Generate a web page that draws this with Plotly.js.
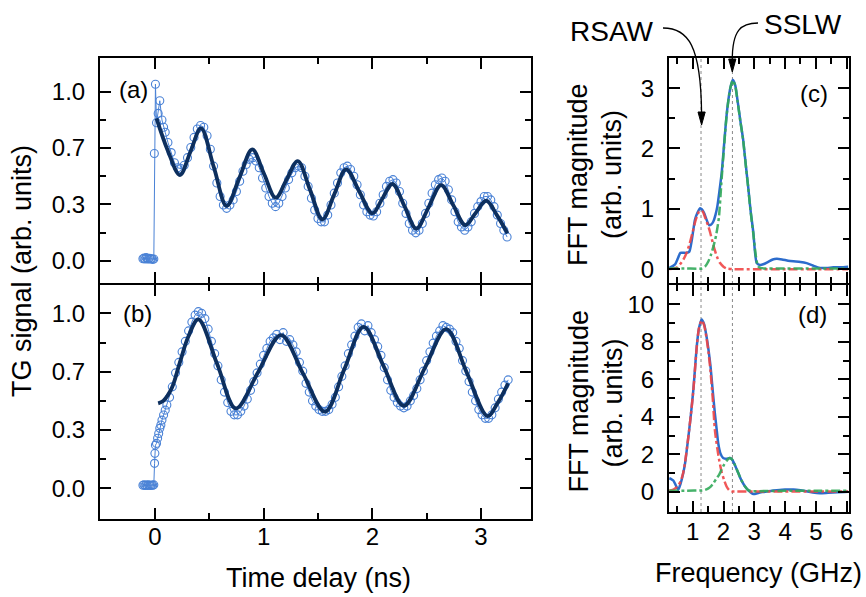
<!DOCTYPE html>
<html>
<head>
<meta charset="utf-8">
<script src="https://cdn.plot.ly/plotly-3.0.1.min.js"></script>
<style>html,body{margin:0;padding:0;background:#fff;}#chart{width:866px;height:597px;}</style>
</head>
<body>
<div id="chart"></div>
<script>
// ---------- Panel (a): TG signal, data and fit ----------
const timeA = [-0.11,-0.10,-0.09,-0.08,-0.07,-0.06,-0.05,-0.04,-0.03,-0.02,-0.01,-0.005,0.005,0.015,0.03,0.045,0.065,0.08,0.095,
0.12,0.15,0.18,0.21,0.24,0.27,0.30,0.33,0.36,0.39,0.42,0.45,0.48,0.51,0.54,0.57,0.60,0.63,0.66,0.69,0.72,0.75,0.78,0.81,0.84,0.87,
0.90,0.93,0.96,0.99,1.02,1.05,1.08,1.11,1.14,1.17,1.20,1.23,1.26,1.29,1.32,1.35,1.38,1.41,1.44,1.47,1.50,1.53,1.56,1.59,1.62,1.65,
1.68,1.71,1.74,1.77,1.80,1.83,1.86,1.89,1.92,1.95,1.98,2.01,2.04,2.07,2.10,2.13,2.16,2.19,2.22,2.25,2.28,2.31,2.34,2.37,2.40,2.43,
2.46,2.49,2.52,2.55,2.58,2.61,2.64,2.67,2.70,2.73,2.76,2.79,2.82,2.85,2.88,2.91,2.94,2.97,3.00,3.03,3.06,3.09,3.12,3.15,3.18,3.21,3.24];
const signalA = [0.012,0.015,0.010,0.018,0.012,0.010,0.014,0.010,0.012,0.008,0.010,0.635,1.045,0.817,0.872,0.947,0.833,0.790,0.760,
0.70,0.64,0.58,0.55,0.545,0.565,0.61,0.67,0.73,0.78,0.80,0.79,0.74,0.66,0.56,0.46,0.38,0.33,0.31,0.33,0.36,0.41,0.47,0.53,0.57,0.60,
0.61,0.59,0.55,0.49,0.43,0.38,0.34,0.32,0.34,0.38,0.43,0.48,0.52,0.55,0.56,0.55,0.50,0.44,0.37,0.30,0.25,0.23,0.23,0.27,0.33,0.40,
0.46,0.52,0.55,0.56,0.54,0.50,0.45,0.39,0.33,0.29,0.27,0.265,0.29,0.34,0.39,0.44,0.47,0.48,0.46,0.41,0.34,0.28,0.22,0.18,0.165,0.18,
0.22,0.28,0.34,0.40,0.45,0.48,0.49,0.47,0.42,0.36,0.29,0.23,0.20,0.18,0.20,0.23,0.28,0.32,0.35,0.38,0.38,0.36,0.32,0.27,0.22,0.18,0.14];
const fitTimeA = [0.015,0.12,0.23,0.327,0.424,0.542,0.66,0.778,0.896,1.003,1.111,1.212,1.314,1.428,1.541,1.65,1.759,1.88,2.0,2.092,
2.185,2.297,2.405,2.52,2.633,2.744,2.855,2.951,3.048,3.146,3.244];
const fitA = [0.843,0.65,0.507,0.645,0.783,0.554,0.325,0.492,0.659,0.516,0.373,0.481,0.59,0.418,0.245,0.393,0.541,0.41,0.28,0.367,
0.454,0.322,0.19,0.319,0.448,0.33,0.211,0.283,0.355,0.27,0.162];

// ---------- Panel (b) ----------
const timeB = [-0.11,-0.10,-0.09,-0.08,-0.07,-0.06,-0.05,-0.04,-0.03,-0.02,-0.01,-0.003,0.0,0.005,0.015,0.025,0.035,0.045,0.055,0.065,
0.08,0.095,0.11,0.135,0.16,0.19,0.22,0.25,0.28,0.31,0.34,0.37,0.40,0.43,0.46,0.49,0.52,0.55,0.58,0.61,0.64,0.67,0.70,0.73,0.76,0.79,
0.82,0.85,0.88,0.91,0.94,0.97,1.00,1.03,1.06,1.09,1.12,1.15,1.18,1.21,1.24,1.27,1.30,1.33,1.36,1.39,1.42,1.45,1.48,1.51,1.54,1.57,
1.60,1.63,1.66,1.69,1.72,1.75,1.78,1.81,1.84,1.87,1.90,1.93,1.96,1.99,2.02,2.05,2.08,2.11,2.14,2.17,2.20,2.23,2.26,2.29,2.32,2.35,
2.38,2.41,2.44,2.47,2.50,2.53,2.56,2.59,2.62,2.65,2.68,2.71,2.74,2.77,2.80,2.83,2.86,2.89,2.92,2.95,2.98,3.01,3.04,3.07,3.10,3.13,
3.16,3.19,3.22,3.25];
const signalB = [0.018,0.020,0.016,0.019,0.017,0.020,0.018,0.016,0.019,0.018,0.020,0.143,0.200,0.247,0.257,0.286,0.314,0.343,0.362,0.390,
0.419,0.447,0.476,0.52,0.58,0.66,0.72,0.78,0.84,0.90,0.95,0.99,1.01,1.00,0.97,0.91,0.84,0.77,0.70,0.62,0.55,0.49,0.44,0.42,0.42,0.44,
0.47,0.51,0.56,0.61,0.66,0.71,0.76,0.80,0.84,0.86,0.88,0.85,0.89,0.84,0.85,0.82,0.78,0.72,0.67,0.60,0.55,0.50,0.47,0.45,0.44,0.44,
0.45,0.48,0.52,0.58,0.64,0.70,0.77,0.82,0.87,0.92,0.94,0.90,0.93,0.89,0.85,0.81,0.76,0.69,0.62,0.56,0.52,0.49,0.47,0.46,0.47,0.50,
0.53,0.57,0.62,0.67,0.73,0.78,0.83,0.87,0.90,0.93,0.92,0.91,0.89,0.84,0.80,0.73,0.67,0.61,0.55,0.50,0.45,0.42,0.40,0.40,0.42,0.46,
0.51,0.55,0.59,0.62];
const fitTimeB = [0.03,0.077,0.154,0.23,0.307,0.40,0.573,0.745,0.952,1.16,1.362,1.565,1.742,1.92,2.105,2.29,2.485,2.68,2.87,3.06,3.155,3.25];
const fitB = [0.486,0.50,0.571,0.72,0.866,0.966,0.71,0.457,0.667,0.876,0.657,0.438,0.68,0.923,0.697,0.472,0.69,0.91,0.66,0.413,0.49,0.60];

// ---------- Panel (c): FFT magnitude ----------
const freqC = [0.24,0.35,0.43,0.52,0.60,0.70,0.80,0.89,0.96,1.02,1.075,1.15,1.24,1.30,1.37,1.45,1.53,1.60,1.67,1.74,1.80,1.87,1.94,
2.00,2.05,2.10,2.16,2.22,2.30,2.38,2.46,2.55,2.64,2.72,2.80,2.88,2.97,3.02,3.08,3.18,3.29,3.45,3.60,3.73,3.90,4.10,4.27,4.50,4.70,
4.90,5.13,5.35,5.57,5.80,6.05];
const fftC = [0.02,0.05,0.08,0.18,0.27,0.27,0.27,0.29,0.45,0.65,0.82,0.93,1.01,0.99,0.93,0.82,0.73,0.74,0.79,0.90,1.04,1.30,1.59,
1.95,2.26,2.55,2.81,3.00,3.14,3.05,2.78,2.45,2.14,1.75,1.37,0.97,0.60,0.30,0.10,0.07,0.08,0.12,0.16,0.17,0.16,0.14,0.13,0.12,0.10,
0.06,0.02,0.02,0.03,0.03,0.04];
const freqRsawC = [0.24,0.40,0.50,0.59,0.70,0.80,0.90,1.00,1.10,1.20,1.27,1.33,1.40,1.50,1.56,1.64,1.72,1.80,1.89,2.00,2.10,2.30,3.0,4.0,5.0,6.05];
const rsawC = [0.0,0.01,0.03,0.08,0.16,0.27,0.42,0.62,0.82,0.95,0.97,0.95,0.86,0.72,0.62,0.46,0.31,0.19,0.10,0.04,0.01,0.0,0.0,0.0,0.0,0.0];
const freqSslwC = [0.24,0.8,1.30,1.40,1.51,1.60,1.67,1.76,1.85,1.94,2.00,2.05,2.10,2.16,2.22,2.30,2.38,2.46,2.55,2.64,2.72,2.80,2.88,
2.97,3.05,3.12,3.20,4.0,5.0,6.05];
const sslwC = [0.01,0.01,0.01,0.04,0.13,0.25,0.37,0.56,0.85,1.50,1.90,2.24,2.54,2.80,3.00,3.13,3.04,2.77,2.44,2.13,1.74,1.36,0.96,
0.58,0.22,0.05,0.02,0.01,0.01,0.01];

// ---------- Panel (d) ----------
const freqD = [0.24,0.30,0.37,0.45,0.53,0.60,0.69,0.75,0.86,0.94,1.02,1.08,1.13,1.20,1.29,1.37,1.45,1.52,1.58,1.65,1.72,1.78,1.83,
1.90,1.99,2.10,2.21,2.29,2.37,2.48,2.58,2.70,2.80,2.92,3.02,3.15,3.40,3.73,4.00,4.27,4.50,4.70,4.90,5.13,5.40,5.70,6.05];
const fftD = [0.72,0.68,0.60,0.35,0.10,0.40,0.98,1.50,2.94,4.10,5.43,6.70,7.74,8.70,9.20,8.95,8.28,7.50,6.67,5.40,4.19,3.30,2.58,
2.05,1.80,1.76,1.80,1.70,1.43,1.00,0.62,0.28,0.09,-0.08,-0.12,-0.05,0.02,0.08,0.12,0.12,0.08,0.03,-0.04,-0.08,-0.05,-0.02,0.0];
const freqRsawD = [0.24,0.35,0.45,0.55,0.62,0.69,0.75,0.86,0.94,1.02,1.08,1.13,1.20,1.29,1.37,1.45,1.52,1.58,1.65,1.72,1.80,1.86,
1.94,2.02,2.10,2.18,2.26,2.40,3.0,4.0,5.0,6.05];
const rsawD = [0.05,0.10,0.20,0.38,0.60,1.00,1.55,2.95,4.10,5.40,6.65,7.70,8.70,9.15,8.90,8.20,7.35,6.40,5.00,3.30,2.30,1.69,1.05,
0.62,0.28,0.09,0.02,0.01,0.01,0.01,0.01,0.01];
const freqSslwD = [0.24,0.8,1.30,1.40,1.51,1.60,1.67,1.76,1.86,1.94,2.02,2.10,2.20,2.29,2.37,2.48,2.58,2.70,2.80,2.92,3.00,4.0,5.0,6.05];
const sslwD = [0.06,0.06,0.07,0.10,0.18,0.30,0.45,0.68,0.92,1.20,1.45,1.65,1.80,1.70,1.43,1.00,0.62,0.28,0.09,0.03,0.03,0.05,0.05,0.05];

// ---------- Tick labels ----------
const tgTickVals = [0, 1/3, 2/3, 1];
const tgTickText = ['0.0','0.3','0.7','1.0'];
const tgMinorVals = [1/6, 0.5, 5/6];
const timeTickVals = [0,1,2,3];
const timeTickText = ['0','1','2','3'];
const timeMinorVals = [0.5,1.5,2.5];
const freqTickVals = [1,2,3,4,5,6];
const freqTickText = ['1','2','3','4','5','6'];
const freqMinorVals = [0.5,1.5,2.5,3.5,4.5,5.5];
const fftCTickVals = [0,1,2,3];
const fftCMinorVals = [0.5,1.5,2.5];
const fftDTickVals = [0,2,4,6,8,10];
const fftDMinorVals = [1,3,5,7,9];
const peakMarks = [1.27, 2.29]; // RSAW, SSLW positions (GHz)

// ---------- styling ----------
const W = 866, H = 597;
const X = px => px / W;
const Y = py => 1 - py / H;
const FONT = 'Liberation Sans, Arial, sans-serif';
const dataBlue = '#4a82d6';
const fitNavy = '#0d2f5e';
const fftBlue = '#2c6ccc';
const red = 'rgba(240,70,70,0.9)';
const green = 'rgba(50,170,90,0.9)';

const traces = [
  {x: timeA, y: signalA, xaxis:'x', yaxis:'y', mode:'lines+markers', line:{color:dataBlue, width:1},
   marker:{symbol:'circle-open', size:8, color:dataBlue, line:{width:1.1}}},
  {x: fitTimeA, y: fitA, xaxis:'x', yaxis:'y', mode:'lines', line:{color:fitNavy, width:3.8, shape:'spline', smoothing:1}},
  {x: timeB, y: signalB, xaxis:'x2', yaxis:'y2', mode:'lines+markers', line:{color:dataBlue, width:1},
   marker:{symbol:'circle-open', size:8, color:dataBlue, line:{width:1.1}}},
  {x: fitTimeB, y: fitB, xaxis:'x2', yaxis:'y2', mode:'lines', line:{color:fitNavy, width:3.8, shape:'spline', smoothing:1}},
  {x: freqC, y: fftC, xaxis:'x3', yaxis:'y3', mode:'lines', line:{color:fftBlue, width:2.5, shape:'spline', smoothing:0.6}},
  {x: freqRsawC, y: rsawC, xaxis:'x3', yaxis:'y3', mode:'lines', line:{color:red, width:2.5, dash:'dashdot', shape:'spline', smoothing:0.6}},
  {x: freqSslwC, y: sslwC, xaxis:'x3', yaxis:'y3', mode:'lines', line:{color:green, width:2.5, dash:'dashdot', shape:'spline', smoothing:0.6}},
  {x: freqD, y: fftD, xaxis:'x4', yaxis:'y4', mode:'lines', line:{color:fftBlue, width:2.5, shape:'spline', smoothing:0.6}},
  {x: freqRsawD, y: rsawD, xaxis:'x4', yaxis:'y4', mode:'lines', line:{color:red, width:2.5, dash:'dashdot', shape:'spline', smoothing:0.6}},
  {x: freqSslwD, y: sslwD, xaxis:'x4', yaxis:'y4', mode:'lines', line:{color:green, width:2.5, dash:'dashdot', shape:'spline', smoothing:0.6}}
];

function ax(extra) {
  return Object.assign({
    showline:true, linecolor:'black', linewidth:2, mirror:'ticks',
    ticks:'inside', ticklen:11, tickwidth:2, tickcolor:'black',
    showgrid:false, zeroline:false, tickmode:'array',
    tickfont:{family:FONT, size:24, color:'black'}, ticklabelstandoff:8,
    fixedrange:true
  }, extra);
}
function minor(vals) {
  return {tickmode:'array', tickvals:vals, ticks:'inside', ticklen:6, tickwidth:2, tickcolor:'black', showgrid:false};
}

const leftX = [X(100), X(531)];
const rightX = [X(669), X(848.5)];

function note(text, px, py, size, angle) {
  const a = {text:text, x:X(px), y:Y(py), xref:'paper', yref:'paper', showarrow:false,
             xanchor:'center', yanchor:'middle', font:{size:size, family:FONT, color:'black'}};
  if (angle) a.textangle = angle;
  return a;
}

const layout = {
  width: W, height: H, autosize:false,
  margin:{l:0, r:0, t:0, b:0, pad:0},
  paper_bgcolor:'white', plot_bgcolor:'white',
  showlegend:false,
  font:{family:FONT, color:'black'},
  xaxis: ax({domain:leftX, anchor:'y', range:[-0.505,3.46], tickvals:timeTickVals, ticktext:timeTickText, showticklabels:false, minor:minor(timeMinorVals)}),
  yaxis: ax({domain:[Y(283), Y(58)], anchor:'x', range:[-0.132,1.2], tickvals:tgTickVals, ticktext:tgTickText, minor:minor(tgMinorVals)}),
  xaxis2: ax({domain:leftX, anchor:'y2', range:[-0.505,3.46], tickvals:timeTickVals, ticktext:timeTickText, minor:minor(timeMinorVals), ticklabelstandoff:-5}),
  yaxis2: ax({domain:[Y(519), Y(285)], anchor:'x2', range:[-0.175,1.162], tickvals:tgTickVals, ticktext:tgTickText, minor:minor(tgMinorVals)}),
  xaxis3: ax({domain:rightX, anchor:'y3', range:[0.23,6.06], tickvals:freqTickVals, ticktext:freqTickText, showticklabels:false, minor:minor(freqMinorVals)}),
  yaxis3: ax({domain:[Y(283), Y(58)], anchor:'x3', range:[-0.23,3.5], tickvals:fftCTickVals, ticktext:fftCTickVals.map(String), minor:minor(fftCMinorVals)}),
  xaxis4: ax({domain:rightX, anchor:'y4', range:[0.23,6.06], tickvals:freqTickVals, ticktext:freqTickText, minor:minor(freqMinorVals), ticklabelstandoff:-3}),
  yaxis4: ax({domain:[Y(512), Y(285)], anchor:'x4', range:[-1.08,11.04], tickvals:fftDTickVals, ticktext:fftDTickVals.map(String), minor:minor(fftDMinorVals)}),
  shapes: [
    ...peakMarks.map(f => ({type:'line', xref:'x3', yref:'paper', x0:f, x1:f, y0:Y(512), y1:Y(58),
      line:{color:'#8a8a8a', width:1, dash:'dot'}, layer:'below'})),
    {type:'path', xref:'paper', yref:'paper',
     path:`M ${X(663)},${Y(28)} C ${X(688)},${Y(28)} ${X(701)},${Y(45)} ${X(701.6)},${Y(114)}`,
     line:{color:'black', width:1.3}},
    {type:'path', xref:'paper', yref:'paper',
     path:`M ${X(698)},${Y(112)} L ${X(705.2)},${Y(112)} L ${X(701.6)},${Y(125)} Z`,
     fillcolor:'black', line:{color:'black', width:1}},
    {type:'path', xref:'paper', yref:'paper',
     path:`M ${X(758)},${Y(23)} C ${X(741)},${Y(23)} ${X(732)},${Y(30)} ${X(732.3)},${Y(61)}`,
     line:{color:'black', width:1.3}},
    {type:'path', xref:'paper', yref:'paper',
     path:`M ${X(728.7)},${Y(59)} L ${X(735.9)},${Y(59)} L ${X(732.3)},${Y(72)} Z`,
     fillcolor:'black', line:{color:'black', width:1}}
  ],
  annotations: [
    note('(a)', 133, 90, 24),
    note('(b)', 137, 313, 24),
    note('(c)', 813.5, 93, 24),
    note('(d)', 812, 314, 24),
    note('RSAW', 611.7, 31.7, 28),
    note('SSLW', 803.3, 25, 28),
    note('TG signal (arb. units)', 22, 271, 27, -90),
    note('FFT magnitude', 578, 175, 27, -90),
    note('(arb. units)', 612, 175, 27, -90),
    note('FFT magnitude', 578, 401.5, 27, -90),
    note('(arb. units)', 612, 403.5, 27, -90),
    note('Time delay (ns)', 318, 578, 27),
    note('Frequency (GHz)', 758.5, 573, 27)
  ]
};

Plotly.newPlot('chart', traces, layout, {displayModeBar:false, staticPlot:true});
</script>
</body>
</html>
